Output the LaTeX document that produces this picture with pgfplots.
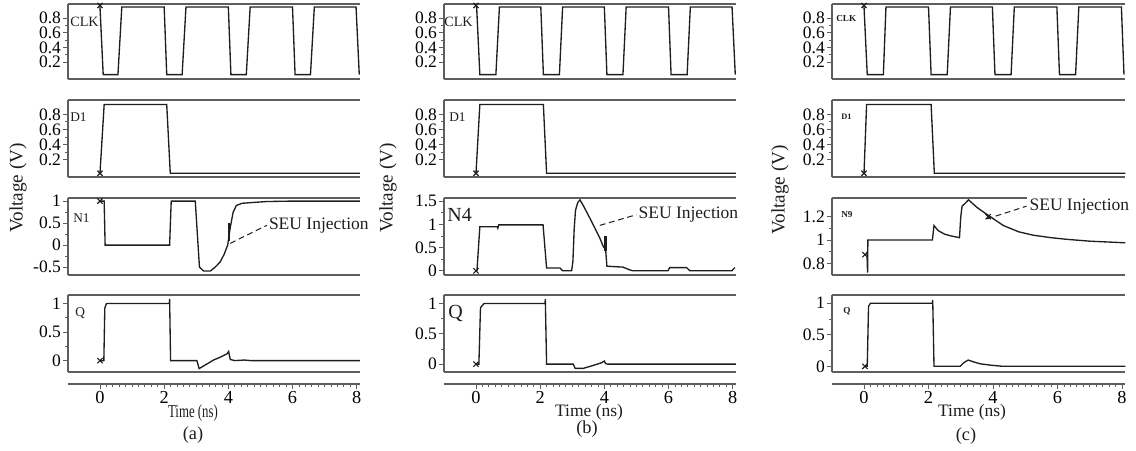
\documentclass[border=0pt]{standalone}
\usepackage{fontspec}
\setmainfont{Liberation Serif}
\usepackage{graphicx}
\usepackage{pgfplots}
\pgfplotsset{compat=1.18}
\definecolor{framegray}{HTML}{5E5E5E}
\definecolor{curve}{HTML}{1E1E1E}
\def\pxu{0.6pt}
\tikzset{seu/.style={dash pattern=on 3.5pt off 2.2pt, line width=0.6pt, curve}}
\pgfplotsset{
  panel/.style={scale only axis, xmin=-1, xmax=8.1,
    axis x line=box, axis y line=left,
    axis line style={-, line width=1.3pt, draw=framegray},
    xtick=\empty, tick align=outside, minor y tick num=1,
    major tick length=3pt, minor tick length=1.6pt,
    tick style={line width=0.5pt, framegray},
    yticklabel style={font=\fontsize{10.5}{10.5}\selectfont, inner sep=1pt},
    /pgf/number format/assume math mode=true, clip=false, anchor=north west},
  clkp/.style={ymin=-0.03, ymax=0.99, ytick={0.2,0.4,0.6,0.8}},
  timeax/.style={scale only axis, height=1pt, anchor=south west,
    xmin=-1, xmax=8.1, ymin=0, ymax=1, axis x line=bottom, hide y axis,
    axis line style={-, line width=1.2pt, draw=framegray},
    xtick={0,2,4,6,8}, minor x tick num=9, tick align=outside,
    major tick length=3pt, minor tick length=2pt,
    tick style={line width=0.5pt, framegray},
    xticklabel style={font=\fontsize{11}{11}\selectfont, inner sep=1pt},
    /pgf/number format/assume math mode=true},
  sig/.style={line width=0.8pt, curve, mark=none},
  cur/.style={only marks, mark=x, mark size=2.2pt, mark options={line width=0.7pt, curve}},
}
\begin{document}
\begin{tikzpicture}
\useasboundingbox (0,0) rectangle (681.6pt,-270pt);

% ================= column (a) =================
\begin{axis}[panel, clkp, at={({67.9*\pxu},{-4*\pxu})}, width=175.2pt, height=45pt]
\addplot[sig] coordinates {(0,0.95)(0.1,0.03)(0.56,0.03)(0.68,0.95)(2.0,0.95)(2.08,0.03)(2.56,0.03)(2.68,0.95)(4.0,0.95)(4.08,0.03)(4.56,0.03)(4.68,0.95)(6.0,0.95)(6.08,0.03)(6.56,0.03)(6.68,0.95)(7.98,0.95)(8.08,0.03)};
\addplot[cur] coordinates {(0,0.97)};
\end{axis}
\begin{axis}[panel, clkp, at={({67.9*\pxu},{-100*\pxu})}, width=175.2pt, height=46.2pt]
\addplot[sig] coordinates {(0,0.02)(0.13,0.93)(2.08,0.93)(2.19,0.02)(8.1,0.02)};
\addplot[cur] coordinates {(0,0.02)};
\end{axis}
\begin{axis}[panel, at={({67.9*\pxu},{-198*\pxu})}, width=175.2pt, height=46.2pt,
  ymin=-0.68, ymax=1.07, ytick={-0.5,0,0.5,1}]
\addplot[sig] coordinates {(0,1.0)(0.13,1.0)(0.16,0.0)(2.17,0.0)(2.22,1.0)(2.97,1.0)(3.03,0.3)(3.1,-0.5)(3.23,-0.59)(3.44,-0.59)(3.59,-0.5)(3.75,-0.38)(3.875,-0.2)(3.98,0.0)(4.06,0.4)(4.15,0.75)(4.25,0.9)(4.43,0.95)(4.8,0.97)(5.2,0.99)(6.0,1.0)(8.1,1.0)};
\addplot[line width=1.6pt, curve, mark=none] coordinates {(4.02,0.1)(4.02,0.5)};
\addplot[cur] coordinates {(0,1.0)};
\draw[seu] (axis cs:4.06,0.04) -- (axis cs:5.2,0.45) node[anchor=west, inner sep=1pt, font=\fontsize{10.5}{10.5}\selectfont] {SEU Injection};
\end{axis}
\begin{axis}[panel, at={({67.9*\pxu},{-295*\pxu})}, width=175.2pt, height=46.2pt,
  ymin=-0.2, ymax=1.15, ytick={0,0.5,1}]
\addplot[sig] coordinates {(0,0)(0.12,0)(0.15,0.92)(0.2,1.0)(2.16,1.0)(2.17,1.08)(2.2,0.0)(3.02,0.0)(3.09,-0.14)(3.33,-0.06)(3.54,0.01)(3.75,0.06)(3.96,0.12)(4.01,0.16)(4.06,0.02)(4.2,0.0)(4.5,0.01)(4.7,0.0)(8.1,0.0)};
\addplot[cur] coordinates {(0,0)};
\end{axis}
\begin{axis}[timeax, at={({67.9*\pxu},{-384*\pxu})}, width=175.2pt]
\addplot[draw=none] coordinates {(0,0)(8,1)};
\end{axis}

% ================= column (b) =================
\begin{axis}[panel, clkp, at={({443.9*\pxu},{-4*\pxu})}, width=175.2pt, height=45pt]
\addplot[sig] coordinates {(0.02,0.95)(0.12,0.03)(0.62,0.03)(0.73,0.95)(2.02,0.95)(2.1,0.03)(2.6,0.03)(2.7,0.95)(4.0,0.95)(4.08,0.03)(4.58,0.03)(4.68,0.95)(6.0,0.95)(6.08,0.03)(6.58,0.03)(6.68,0.95)(7.98,0.95)(8.08,0.03)};
\addplot[cur] coordinates {(0,0.97)};
\end{axis}
\begin{axis}[panel, clkp, at={({443.9*\pxu},{-100*\pxu})}, width=175.2pt, height=46.2pt]
\addplot[sig] coordinates {(0,0.02)(0.12,0.93)(2.1,0.93)(2.2,0.02)(8.1,0.02)};
\addplot[cur] coordinates {(0,0.02)};
\end{axis}
\begin{axis}[panel, at={({443.9*\pxu},{-198*\pxu})}, width=175.2pt, height=46.2pt,
  ymin=-0.09, ymax=1.57, ytick={0,0.5,1,1.5}]
\addplot[sig] coordinates {(0,0.0)(0.03,0.0)(0.12,0.95)(0.66,0.95)(0.68,0.92)(0.71,0.99)(2.09,0.99)(2.2,0.06)(2.62,0.06)(2.7,0.0)(2.98,0.0)(3.02,0.2)(3.06,0.9)(3.1,1.3)(3.17,1.47)(3.24,1.53)(3.35,1.4)(3.5,1.2)(3.7,0.93)(3.85,0.72)(3.97,0.52)(4.04,0.46)(4.08,0.1)(4.58,0.08)(4.79,0.02)(4.9,0.0)(5.98,0.0)(6.04,0.07)(6.56,0.07)(6.67,0.0)(7.97,0.0)(8.07,0.07)};
\addplot[line width=1.6pt, curve, mark=none] coordinates {(4.03,0.43)(4.03,0.76)};
\addplot[cur] coordinates {(0,0)};
\draw[seu] (axis cs:3.86,0.98) -- (axis cs:5.0,1.21) node[anchor=west, inner sep=1pt, font=\fontsize{10.5}{10.5}\selectfont] {SEU Injection};
\end{axis}
\begin{axis}[panel, at={({443.9*\pxu},{-295*\pxu})}, width=175.2pt, height=46.2pt,
  ymin=-0.13, ymax=1.14, ytick={0,0.5,1}]
\addplot[sig] coordinates {(0,0)(0.09,0)(0.14,0.93)(0.25,1.0)(2.15,1.0)(2.16,1.07)(2.2,0.0)(3.03,0.0)(3.09,-0.07)(3.34,-0.07)(3.6,-0.03)(3.9,0.02)(4.0,0.05)(4.04,0.01)(4.1,0.0)(8.1,0.0)};
\addplot[cur] coordinates {(0,0)};
\end{axis}
\begin{axis}[timeax, at={({443.9*\pxu},{-384*\pxu})}, width=175.2pt]
\addplot[draw=none] coordinates {(0,0)(8,1)};
\end{axis}

% ================= column (c) =================
\begin{axis}[panel, clkp, at={({831.75*\pxu},{-4*\pxu})}, width=176.1pt, height=45pt]
\addplot[sig] coordinates {(0.0,0.95)(0.1,0.03)(0.6,0.03)(0.68,0.95)(2.0,0.95)(2.08,0.03)(2.58,0.03)(2.68,0.95)(3.98,0.95)(4.06,0.03)(4.56,0.03)(4.66,0.95)(5.98,0.95)(6.06,0.03)(6.56,0.03)(6.66,0.95)(7.98,0.95)(8.06,0.03)};
\addplot[cur] coordinates {(0,0.97)};
\end{axis}
\begin{axis}[panel, clkp, at={({831.75*\pxu},{-100*\pxu})}, width=176.1pt, height=46.2pt]
\addplot[sig] coordinates {(0,0.02)(0.08,0.93)(2.08,0.93)(2.18,0.02)(8.1,0.02)};
\addplot[cur] coordinates {(0,0.02)};
\end{axis}
\begin{axis}[panel, at={({831.75*\pxu},{-198*\pxu})}, width=176.1pt, height=46.2pt,
  ymin=0.70, ymax=1.36, ytick={0.8,1,1.2}]
\addplot[sig] coordinates {(0.09,0.9)(0.11,0.72)(0.12,1.0)(2.12,1.0)(2.17,1.124)(2.3,1.08)(2.5,1.05)(2.7,1.035)(2.96,1.02)(3.0,1.2)(3.04,1.29)(3.12,1.31)(3.24,1.344)(3.5,1.28)(3.7,1.24)(3.86,1.21)(4.32,1.124)(4.8,1.07)(5.25,1.041)(5.8,1.02)(6.28,1.006)(7.0,0.99)(8.1,0.976)};
\addplot[cur] coordinates {(0.03,0.875)(3.85,1.2)};
\draw[seu] (axis cs:3.8,1.18) -- (axis cs:5.04,1.29) node[anchor=west, inner sep=1.5pt, fill=white, font=\fontsize{10.5}{10.5}\selectfont] {SEU Injection};
\end{axis}
\begin{axis}[panel, at={({831.75*\pxu},{-295*\pxu})}, width=176.1pt, height=46.2pt,
  ymin=-0.09, ymax=1.13, ytick={0,0.5,1}]
\addplot[sig] coordinates {(0.03,0)(0.1,0)(0.14,0.95)(0.2,1.0)(2.12,1.0)(2.13,1.05)(2.17,0.0)(2.98,0.0)(3.1,0.06)(3.23,0.1)(3.4,0.07)(3.6,0.04)(3.9,0.02)(4.1,0.01)(4.3,0.0)(8.1,0.0)};
\addplot[cur] coordinates {(0.03,0)};
\end{axis}
\begin{axis}[timeax, at={({831.75*\pxu},{-384*\pxu})}, width=176.1pt]
\addplot[draw=none] coordinates {(0,0)(8,1)};
\end{axis}

% ================= texts =================
\begin{scope}[every node/.style={inner sep=0pt, anchor=west, text=curve}]
\node[font=\fontsize{8.5}{8.5}\selectfont] at ({70*\pxu},{-22*\pxu}) {CLK};
\node[font=\fontsize{8}{8}\selectfont] at ({70*\pxu},{-117*\pxu}) {D1};
\node[font=\fontsize{8}{8}\selectfont] at ({73*\pxu},{-218*\pxu}) {N1};
\node[font=\fontsize{8}{8}\selectfont] at ({75*\pxu},{-313*\pxu}) {Q};
\node[font=\fontsize{8.5}{8.5}\selectfont] at ({444*\pxu},{-22*\pxu}) {CLK};
\node[font=\fontsize{8}{8}\selectfont] at ({449*\pxu},{-117*\pxu}) {D1};
\node[font=\fontsize{12}{12}\selectfont] at ({447*\pxu},{-215*\pxu}) {N4};
\node[font=\fontsize{12}{12}\selectfont] at ({448*\pxu},{-313*\pxu}) {Q};
\node[font=\bfseries\fontsize{5.5}{5.5}\selectfont] at ({836*\pxu},{-19*\pxu}) {CLK};
\node[font=\bfseries\fontsize{5}{5}\selectfont] at ({841*\pxu},{-117*\pxu}) {D1};
\node[font=\bfseries\fontsize{5.5}{5.5}\selectfont] at ({841*\pxu},{-215*\pxu}) {N9};
\node[font=\bfseries\fontsize{5.5}{5.5}\selectfont] at ({843*\pxu},{-311*\pxu}) {Q};
\end{scope}
\begin{scope}[every node/.style={inner sep=0pt, text=curve}]
\node[rotate=90, font=\fontsize{11.5}{11.5}\selectfont] at ({18*\pxu},{-188*\pxu}) {Voltage (V)};
\node[rotate=90, font=\fontsize{11.5}{11.5}\selectfont] at ({388*\pxu},{-188*\pxu}) {Voltage (V)};
\node[rotate=90, font=\fontsize{11.5}{11.5}\selectfont] at ({780*\pxu},{-190*\pxu}) {Voltage (V)};
\node[font=\fontsize{11}{11}\selectfont] at ({193*\pxu},{-413*\pxu}) {\scalebox{0.7}[1]{Time (ns)}};
\node[font=\fontsize{10.5}{10.5}\selectfont] at ({589*\pxu},{-412*\pxu}) {Time (ns)};
\node[font=\fontsize{10.5}{10.5}\selectfont] at ({972*\pxu},{-412*\pxu}) {Time (ns)};
\node[font=\fontsize{11}{11}\selectfont] at ({193*\pxu},{-435*\pxu}) {(a)};
\node[font=\fontsize{11}{11}\selectfont] at ({587*\pxu},{-429*\pxu}) {(b)};
\node[font=\fontsize{11}{11}\selectfont] at ({966*\pxu},{-436*\pxu}) {(c)};
\end{scope}
\end{tikzpicture}
\end{document}
